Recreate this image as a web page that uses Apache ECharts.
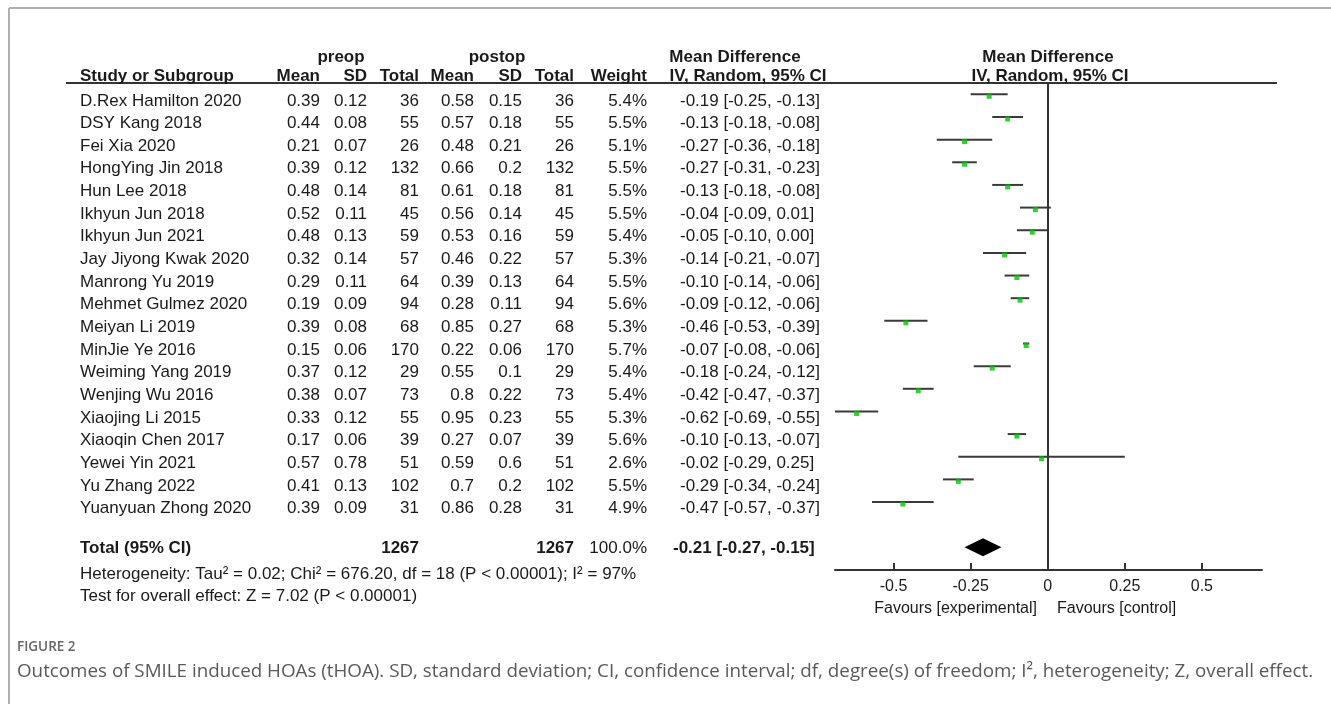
<!DOCTYPE html>
<html><head><meta charset="utf-8">
<script src="https://cdn.jsdelivr.net/npm/echarts@6/dist/echarts.min.js"></script>
<style>html,body{margin:0;padding:0;background:#fff;}#c{width:1331px;height:704px;}</style>
</head><body><div id="c"></div>
<script>
const studies = ["D.Rex Hamilton 2020","DSY Kang 2018","Fei Xia 2020","HongYing Jin 2018","Hun Lee 2018","Ikhyun Jun 2018","Ikhyun Jun 2021","Jay Jiyong Kwak 2020","Manrong Yu 2019","Mehmet Gulmez 2020","Meiyan Li 2019","MinJie Ye 2016","Weiming Yang 2019","Wenjing Wu 2016","Xiaojing Li 2015","Xiaoqin Chen 2017","Yewei Yin 2021","Yu Zhang 2022","Yuanyuan Zhong 2020"];
const preMean = [0.39,0.44,0.21,0.39,0.48,0.52,0.48,0.32,0.29,0.19,0.39,0.15,0.37,0.38,0.33,0.17,0.57,0.41,0.39];
const preSD   = ["0.12","0.08","0.07","0.12","0.14","0.11","0.13","0.14","0.11","0.09","0.08","0.06","0.12","0.07","0.12","0.06","0.78","0.13","0.09"];
const preN    = [36,55,26,132,81,45,59,57,64,94,68,170,29,73,55,39,51,102,31];
const postMean= [0.58,0.57,0.48,0.66,0.61,0.56,0.53,0.46,0.39,0.28,0.85,0.22,0.55,0.8,0.95,0.27,0.59,0.7,0.86];
const postSD  = ["0.15","0.18","0.21","0.2","0.18","0.14","0.16","0.22","0.13","0.11","0.27","0.06","0.1","0.22","0.23","0.07","0.6","0.2","0.28"];
const postN   = [36,55,26,132,81,45,59,57,64,94,68,170,29,73,55,39,51,102,31];
const weight  = [5.4,5.5,5.1,5.5,5.5,5.5,5.4,5.3,5.5,5.6,5.3,5.7,5.4,5.4,5.3,5.6,2.6,5.5,4.9];
const md      = [-0.19,-0.13,-0.27,-0.27,-0.13,-0.04,-0.05,-0.14,-0.10,-0.09,-0.46,-0.07,-0.18,-0.42,-0.62,-0.10,-0.02,-0.29,-0.47];
const ciLo    = [-0.25,-0.18,-0.36,-0.31,-0.18,-0.09,-0.10,-0.21,-0.14,-0.12,-0.53,-0.08,-0.24,-0.47,-0.69,-0.13,-0.29,-0.34,-0.57];
const ciHi    = [-0.13,-0.08,-0.18,-0.23,-0.08,0.01,0.00,-0.07,-0.06,-0.06,-0.39,-0.06,-0.12,-0.37,-0.55,-0.07,0.25,-0.24,-0.37];
const total = {preN:1267, postN:1267, weight:"100.0%", md:-0.21, lo:-0.27, hi:-0.15, row:20};
const tickValues = [-0.5,-0.25,0,0.25,0.5];
const tickLabels = ["-0.5","-0.25","0","0.25","0.5"];
const heterogeneity = "Heterogeneity: Tau\u00b2 = 0.02; Chi\u00b2 = 676.20, df = 18 (P < 0.00001); I\u00b2 = 97%";
const overall = "Test for overall effect: Z = 7.02 (P < 0.00001)";
const caption = "Outcomes of SMILE induced HOAs (tHOA). SD, standard deviation; CI, confidence interval; df, degree(s) of freedom; I\u00b2, heterogeneity; Z, overall effect.";

const FONT = "'Liberation Sans', Arial, sans-serif";
const FS = 17;
const TXT = '#1a1a1a';
const f2 = v => (Math.abs(v) < 1e-9 ? 0 : v).toFixed(2);
const ciText = (m,l,h) => f2(m) + " [" + f2(l) + ", " + f2(h) + "]";

const cols = [
  {x:80, align:'left', get:i=>studies[i]},
  {x:320, align:'right', get:i=>String(preMean[i])},
  {x:367, align:'right', get:i=>preSD[i]},
  {x:419, align:'right', get:i=>String(preN[i])},
  {x:474, align:'right', get:i=>String(postMean[i])},
  {x:522, align:'right', get:i=>postSD[i]},
  {x:574, align:'right', get:i=>String(postN[i])},
  {x:647, align:'right', get:i=>weight[i].toFixed(1)+'%'},
  {x:680, align:'left', get:i=>ciText(md[i],ciLo[i],ciHi[i])}
];

const chart = echarts.init(document.getElementById('c'), null, {renderer:'canvas'});

function t(x,y,text,opts){
  return {type:'text', x:x, y:y, style:Object.assign({text:text, font:'normal '+FS+'px '+FONT, fill:TXT, textAlign:'left', textVerticalAlign:'middle'}, opts||{})};
}
const B = 'bold '+FS+'px '+FONT;
const headerY1 = 57, headerY2 = 76;
const graphics = [
  {type:'line', shape:{x1:9,y1:8,x2:1331,y2:8}, style:{stroke:'#b0b0b0', lineWidth:2}},
  {type:'line', shape:{x1:9,y1:8,x2:9,y2:704}, style:{stroke:'#b0b0b0', lineWidth:2}},
  {type:'line', shape:{x1:66,y1:83,x2:1277,y2:83}, style:{stroke:'#333', lineWidth:2}},
  t(341, headerY1, 'preop', {font:B, textAlign:'center'}),
  t(497, headerY1, 'postop', {font:B, textAlign:'center'}),
  t(735, headerY1, 'Mean Difference', {font:B, textAlign:'center'}),
  t(1048, headerY1, 'Mean Difference', {font:B, textAlign:'center'}),
  t(80, headerY2, 'Study or Subgroup', {font:B}),
  t(320, headerY2, 'Mean', {font:B, textAlign:'right'}),
  t(367, headerY2, 'SD', {font:B, textAlign:'right'}),
  t(419, headerY2, 'Total', {font:B, textAlign:'right'}),
  t(474, headerY2, 'Mean', {font:B, textAlign:'right'}),
  t(522, headerY2, 'SD', {font:B, textAlign:'right'}),
  t(574, headerY2, 'Total', {font:B, textAlign:'right'}),
  t(647, headerY2, 'Weight', {font:B, textAlign:'right'}),
  t(748, headerY2, 'IV, Random, 95% CI', {font:B, textAlign:'center'}),
  t(1050, headerY2, 'IV, Random, 95% CI', {font:B, textAlign:'center'}),
  t(80, 574, heterogeneity, {font:'normal 17px '+FONT}),
  t(80, 596, overall, {font:'normal 17px '+FONT}),
  t(1037, 609, 'Favours [experimental]', {font:'normal 16px '+FONT, textAlign:'right'}),
  t(1057, 609, 'Favours [control]', {font:'normal 16px '+FONT}),
  t(17, 647, 'FIGURE 2', {font:'600 13.5px "Open Sans", sans-serif', fill:'#666'}),
  t(17, 672, caption, {font:'normal 18.8px "Open Sans", sans-serif', fill:'#595959'})
];

const rowIdx = studies.map((s,i)=>i);

chart.setOption({
  animation:false,
  backgroundColor:'#fff',
  grid:{left:835, top:83, width:427, height:487, containLabel:false},
  xAxis:{type:'value', min:-0.69, max:0.695,
    axisLine:{show:true, onZero:false, lineStyle:{color:'#333', width:2}},
    axisTick:{show:true, inside:true, length:7, customValues:tickValues, lineStyle:{color:'#333', width:2}},
    axisLabel:{show:true, customValues:tickValues, margin:9, fontFamily:FONT, fontSize:16, color:TXT,
      formatter:v=>{const k=tickValues.findIndex(tv=>Math.abs(tv-v)<1e-9); return k>=0?tickLabels[k]:'';}},
    splitLine:{show:false}},
  yAxis:{type:'value', inverse:true, min:-0.5, max:21, show:false},
  graphic:graphics,
  series:[
    {type:'custom', name:'table', clip:false, silent:true,
      data:rowIdx.map(i=>[0,i]),
      renderItem:(params,api)=>{
        const i = api.value(1);
        const y = api.coord([0,i])[1] + 6.5;
        return {type:'group', children:cols.map(c=>({type:'text', x:c.x, y:y,
          style:{text:c.get(i), font:'normal '+FS+'px '+FONT, fill:TXT, textAlign:c.align, textVerticalAlign:'middle'}}))};
      }},
    {type:'custom', name:'totalRow', clip:false, silent:true,
      data:[[0,total.row]],
      renderItem:(params,api)=>{
        const y = api.coord([0,api.value(1)])[1] + 1;
        const mk=(x,s,al,f)=>({type:'text', x:x, y:y, style:{text:s, font:f||B, fill:TXT, textAlign:al, textVerticalAlign:'middle'}});
        return {type:'group', children:[
          mk(80,'Total (95% CI)','left'),
          mk(419,String(total.preN),'right'),
          mk(574,String(total.postN),'right'),
          mk(647,total.weight,'right','normal '+FS+'px '+FONT),
          mk(673,ciText(total.md,total.lo,total.hi),'left')
        ]};
      }},
    {type:'custom', name:'ci', clip:false,
      data:rowIdx.map(i=>[ciLo[i],ciHi[i],i]),
      renderItem:(params,api)=>{
        const p1 = api.coord([api.value(0), api.value(2)]);
        const p2 = api.coord([api.value(1), api.value(2)]);
        return {type:'line', shape:{x1:p1[0],y1:p1[1],x2:p2[0],y2:p2[1]}, style:{stroke:'#3a3a3a', lineWidth:2}};
      },
      markLine:{silent:true, symbol:'none', label:{show:false}, lineStyle:{color:'#333', width:2, type:'solid'},
        data:[{xAxis:0}]}
    },
    {type:'scatter', name:'md', symbol:'rect', symbolSize:5, symbolOffset:[0,2],
      itemStyle:{color:'#00c400'}, data:rowIdx.map(i=>[md[i],i]), z:5},
    {type:'custom', name:'diamond', clip:false,
      data:[[total.lo,total.md,total.hi,total.row]],
      renderItem:(params,api)=>{
        const r = api.value(3);
        const l = api.coord([api.value(0), r]);
        const m = api.coord([api.value(1), r]);
        const h = api.coord([api.value(2), r]);
        const hh = 9;
        return {type:'polygon', shape:{points:[[l[0],l[1]],[m[0],m[1]-hh],[h[0],h[1]],[m[0],m[1]+hh]]}, style:{fill:'#000'}};
      }}
  ]
});
</script></body></html>
